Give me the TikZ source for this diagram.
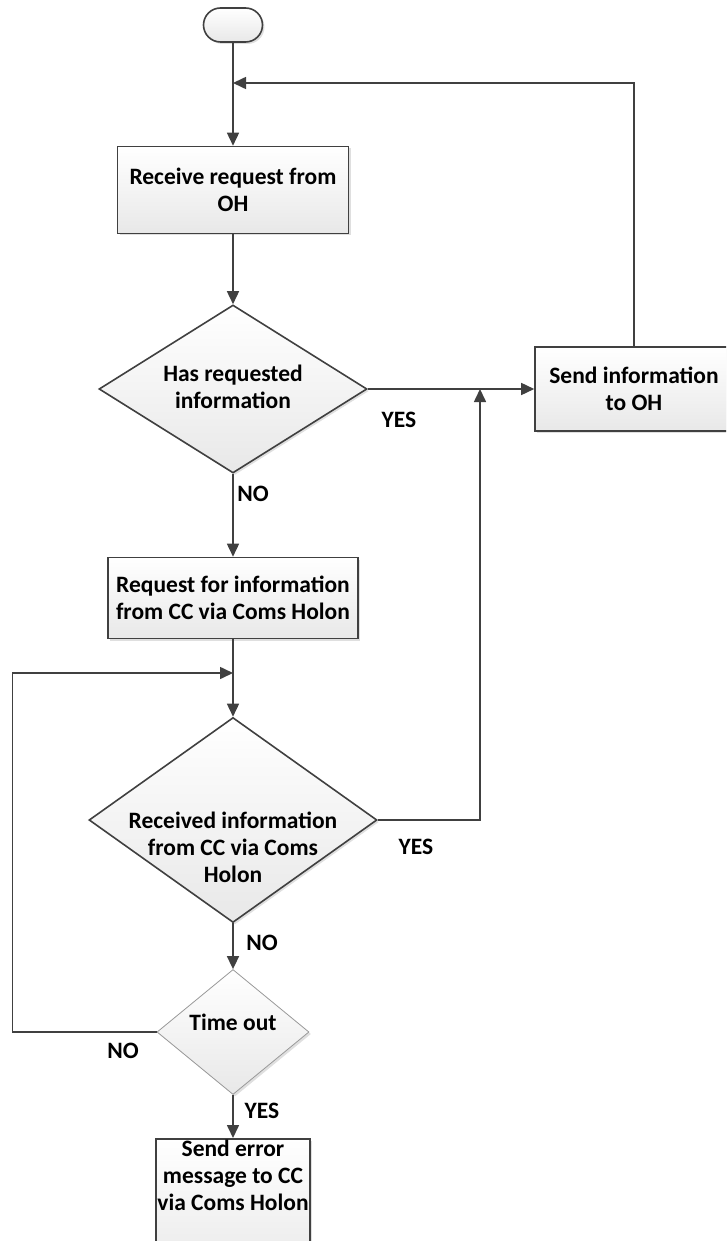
\documentclass[tikz,border=0pt]{standalone}
\usepackage{fontspec}
\setmainfont{Carlito}
\usetikzlibrary{shapes.geometric}
\usetikzlibrary{shadows}
\usetikzlibrary{arrows.meta}

\definecolor{edge}{HTML}{404040}

\begin{document}
\begin{tikzpicture}[x=1pt, y=-1pt,
      base/.style={draw=edge, line width=1.6pt, top color=white, bottom color=black!9,
                   drop shadow={opacity=0.25, shadow xshift=2pt, shadow yshift=-2pt}},
      box/.style={base, rectangle, align=center, inner sep=0pt,
                  font=\bfseries\fontsize{23.5}{27}\selectfont},
      decision/.style={base, diamond, inner sep=0pt},
      txt/.style={align=center, font=\bfseries\fontsize{23.5}{27}\selectfont},
      lbl/.style={font=\bfseries\fontsize{23.5}{27}\selectfont},
      flow/.style={draw=edge, line width=1.6pt, ->},
      >={Triangle[length=13pt, width=12pt]},
    ]
    \useasboundingbox (0,0) rectangle (726,1241);
    \clip (0,0) rectangle (726,1241);

    \node[base, rectangle, rounded corners=17pt, minimum width=59pt, minimum height=34pt] (start) at (233,25) {};
    \node[box, minimum width=231pt, minimum height=87pt] (recv) at (233,190) {Receive request from\\OH};
    \node[decision, minimum width=268pt, minimum height=168pt] (hasinfo) at (233,389) {};
    \node[txt] (hasinfo-t) at (233,387) {Has requested\\information};
    \node[box, minimum width=198pt, minimum height=84pt] (sendinfo) at (634,389) {Send information\\to OH};
    \node[box, minimum width=250pt, minimum height=81pt] (reqcc) at (233,598) {Request for information\\from CC via Coms Holon};
    \node[decision, minimum width=288pt, minimum height=205pt] (gotinfo) at (233,820) {};
    \node[txt] (gotinfo-t) at (233,847) {Received information\\from CC via Coms\\Holon};
    \node[decision, draw=gray!80, line width=0.8pt, minimum width=152pt, minimum height=125pt] (timeout) at (233,1032) {};
    \node[txt] (timeout-t) at (233,1022) {Time out};
    \node[box, anchor=north, minimum width=154pt, minimum height=140pt] (senderr) at (233,1138) {};
    \node[txt] (senderr-t) at (233,1175) {Send error\\message to CC\\via Coms Holon};

    \coordinate (topjoin) at (233,83);
    \coordinate (yesjoin) at (480,389);
    \coordinate (loopjoin) at (233,673);

    % main flow
    \draw[flow] (start) -- (recv);
    \draw[flow] (recv) -- (hasinfo);
    \draw[flow] (hasinfo) -- (reqcc);
    \draw[flow] (reqcc) -- (gotinfo);
    \draw[flow] (gotinfo) -- (timeout);
    \draw[flow] (timeout) -- (senderr);

    % branches and loops
    \draw[flow] (hasinfo.east) -- (sendinfo.west);
    \draw[flow] (sendinfo.north) |- (topjoin);
    \draw[flow] (gotinfo.east) -| (yesjoin);
    \draw[flow] (timeout.west) -- ++(-144,0) |- (loopjoin);

    \node[lbl] (yes1) at (399,420) {YES};
    \node[lbl] (no1) at (253,494) {NO};
    \node[lbl] (yes2) at (416,847) {YES};
    \node[lbl] (no2) at (262,943) {NO};
    \node[lbl] (no3) at (123,1051) {NO};
    \node[lbl] (yes3) at (262,1111) {YES};
\end{tikzpicture}
\end{document}
